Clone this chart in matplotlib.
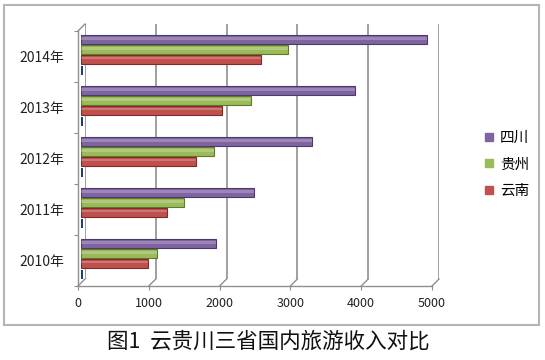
import matplotlib
matplotlib.use("Agg")
import matplotlib.pyplot as plt
from matplotlib.lines import Line2D
from matplotlib.patches import Rectangle

plt.rcParams['font.family'] = ['Noto Sans CJK SC', 'DejaVu Sans']

years = ["2010年", "2011年", "2012年", "2013年", "2014年"]
sichuan = [1900, 2430, 3260, 3860, 4870]
guizhou = [1070, 1450, 1870, 2390, 2920]
yunnan = [940, 1210, 1620, 1990, 2540]
stub = [30, 30, 30, 30, 30]  # near-zero ghost series drawn by the original chart
x_ticks = [0, 1000, 2000, 3000, 4000, 5000]

W, H = 545, 360
fig = plt.figure(figsize=(W / 100, H / 100), dpi=100)


def box(x0, y_top, x1, y_bot):
    return [x0 / W, 1 - y_bot / H, (x1 - x0) / W, (y_bot - y_top) / H]


n = len(years)
ylim = (-0.5, n - 0.5)
xlim = (0, 5000)

# back wall: gridlines
ax_back = fig.add_axes(box(85, 24, 439, 279))
ax_back.set_xlim(xlim)
ax_back.set_ylim(ylim)
for v in x_ticks:
    ax_back.axvline(v, color="#8f8f8f", lw=1.2)
ax_back.axis("off")

# floor connectors between front axis and back wall
for v in x_ticks:
    xf = 78 + (432 - 78) * v / 5000
    xb = 85 + (439 - 85) * v / 5000
    fig.add_artist(Line2D([xf / W, xb / W], [1 - 286 / H, 1 - 279 / H],
                          transform=fig.transFigure, color="#8f8f8f", lw=1.0))
fig.add_artist(Line2D([78 / W, 85 / W], [1 - 31 / H, 1 - 24 / H],
                      transform=fig.transFigure, color="#8f8f8f", lw=1.0))

# bars
ax_bar = fig.add_axes(box(81, 24, 436, 279))
ax_bar.set_xlim(xlim)
ax_bar.set_ylim(ylim)
ax_bar.patch.set_alpha(0)
ax_bar.axis("off")

h = 0.175
series = [
    (sichuan, 0.19, "#8064A2", "#4b3a6b", "四川"),
    (guizhou, 0.0, "#9BBB59", "#5f7a2c", "贵州"),
    (yunnan, -0.19, "#C0504D", "#7d2a28", "云南"),
]
pos = list(range(n))
for vals, off, fc, ec, name in series:
    ax_bar.barh([p + off for p in pos], vals, height=h, color=fc,
                edgecolor=ec, linewidth=0.8, zorder=3)
    # cylinder highlight
    ax_bar.barh([p + off + h * 0.12 for p in pos], vals, height=h * 0.3,
                color="white", alpha=0.22, linewidth=0, zorder=4)
ax_bar.barh([p - 0.41 for p in pos], stub, height=0.17, color="#1f3f73",
            linewidth=0, zorder=3)

# front axes: ticks and labels
ax = fig.add_axes(box(78, 31, 432, 286))
ax.set_xlim(xlim)
ax.set_ylim(ylim)
ax.patch.set_alpha(0)
for s in ["top", "right"]:
    ax.spines[s].set_visible(False)
for s in ["left", "bottom"]:
    ax.spines[s].set_color("#8f8f8f")
    ax.spines[s].set_linewidth(1.0)
ax.set_xticks(x_ticks)
ax.set_xticklabels([str(v) for v in x_ticks], fontsize=9, color="#222222")
ax.tick_params(axis="x", length=3, color="#8f8f8f", pad=5)
ax.set_yticks([i - 0.5 for i in range(n + 1)])
ax.set_yticklabels([])
ax.set_yticks(pos, minor=True)
ax.set_yticklabels(years, minor=True, fontsize=10, color="#222222")
ax.tick_params(axis="y", which="major", length=3, color="#8f8f8f")
ax.tick_params(axis="y", which="minor", length=0, pad=10)

# legend
handles = [Line2D([], [], marker="s", linestyle="none", markersize=6,
                  markerfacecolor=fc, markeredgecolor=fc) for _, _, fc, _, _ in series]
labels = [s[4] for s in series]
fig.legend(handles, labels, loc="center left", bbox_to_anchor=(484 / W, 1 - 164.5 / H),
           frameon=False, fontsize=10.5, handlelength=0.7, handletextpad=0.4,
           labelspacing=0.85, borderpad=0, borderaxespad=0)

# chart border
fig.add_artist(Rectangle((4 / W, 1 - 325 / H), 535 / W, 320 / H, transform=fig.transFigure,
                         fill=False, edgecolor="#b5b5b5", lw=1.5))

fig.text(268 / W, 1 - 342 / H, "图1  云贵川三省国内旅游收入对比", ha="center", va="center",
         fontsize=15.5, color="#111111")

fig.savefig("out.png", dpi=100)
